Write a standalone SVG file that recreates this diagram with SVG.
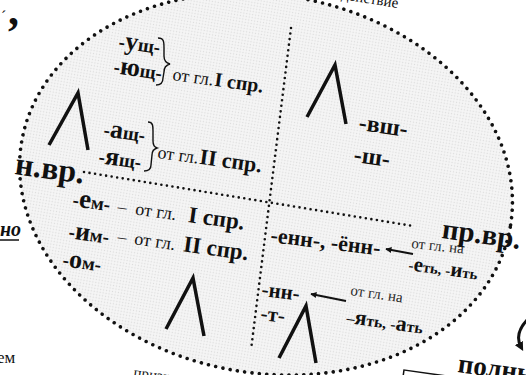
<svg xmlns="http://www.w3.org/2000/svg" width="526" height="375" viewBox="0 0 526 375">
<defs>
<pattern id="ht" width="3" height="3" patternUnits="userSpaceOnUse">
<rect width="3" height="3" fill="#f5f5f5"/>
<circle cx="1.5" cy="1.5" r="0.7" fill="#dcdcdc"/>
</pattern>
<marker id="ah" viewBox="0 0 10 10" refX="9" refY="5" markerWidth="7" markerHeight="6" orient="auto-start-reverse" markerUnits="userSpaceOnUse">
<path d="M0,0 L10,5 L0,10 Z" fill="#111"/>
</marker>
<marker id="ah2" viewBox="0 0 10 10" refX="5" refY="5" markerWidth="9" markerHeight="9" orient="auto" markerUnits="userSpaceOnUse">
<path d="M0,0 L10,5 L0,10 Z" fill="#111"/>
</marker>
</defs>
<style>
text{font-family:"Liberation Serif","Times New Roman",serif;fill:#111}
.s{font-weight:bold;font-size:19px}
.b{font-size:26px}
.r{font-weight:normal;font-size:18px}
.rb{font-weight:bold;font-size:20px}
.sm{font-weight:normal;font-size:15px;fill:#2a2a2a}
.big{font-weight:bold;font-size:29px}
.caret{fill:none;stroke:#111;stroke-width:3.5;stroke-linejoin:miter}
.dl{fill:none;stroke:#111;stroke-width:2.6;stroke-linecap:round;stroke-dasharray:0 5.6}
.brace{fill:none;stroke:#111;stroke-width:1.4}
</style>
<rect width="526" height="375" fill="#ffffff"/>
<g id="oval">
<ellipse cx="266" cy="184" rx="248" ry="189" transform="rotate(10 266 184)" fill="url(#ht)" stroke="#111" stroke-width="3.6" stroke-linecap="round" stroke-dasharray="0 7.4"/>
</g>
<g id="connectors">
<line class="dl" x1="291" y1="28" x2="251" y2="350"/>
<line class="dl" x1="84" y1="172" x2="413" y2="226"/>
<line x1="413" y1="254" x2="386" y2="249" stroke="#111" stroke-width="1.8" marker-end="url(#ah)"/>
<line x1="346" y1="301" x2="311" y2="294" stroke="#111" stroke-width="1.8" marker-end="url(#ah)"/>
</g>
<g id="q-top-left">
<polyline class="caret" points="49,145 78,93 88,150"/>
<text class="s" x="118" y="48" transform="rotate(8 118 48)">-<tspan class="b">у</tspan>щ-</text>
<text class="s" x="113" y="73" transform="rotate(8 113 73)">-<tspan class="b">ю</tspan>щ-</text>
<path class="brace" d="M158,38 C164,38 164,42 164,48 L164,56 C164,61 166,63 170,64 C166,65 164,67 164,72 L163,78 C163,83 161,85 156,85"/>
<text x="172" y="80" transform="rotate(8 172 80)"><tspan class="r">от гл.</tspan><tspan class="rb" dx="1">I спр.</tspan></text>
<text class="s" x="103" y="136" transform="rotate(8 103 136)">-<tspan class="b">а</tspan>щ-</text>
<text class="s" x="98" y="163" transform="rotate(8 98 163)">-<tspan class="b">я</tspan>щ-</text>
<path class="brace" d="M148,122 C153,122 153,126 153,131 L153,141 C153,145 154,147 157,148 C154,149 152,151 152,155 L151,165 C151,169 149,171 144,171"/>
<text x="157" y="158" transform="rotate(8 157 158)"><tspan class="r">от гл.</tspan><tspan class="rb" dx="1" style="font-size:22px">II спр.</tspan></text>
<text class="big" x="14" y="174" transform="rotate(8 14 174)" style="font-size:32px">н.вр.</text>
</g>
<g id="q-top-right">
<polyline class="caret" points="307,117 335,65 346,124"/>
<text class="s" x="358" y="130" transform="rotate(8 358 130)" style="font-size:24px">-вш-</text>
<text class="s" x="353" y="162" transform="rotate(8 353 162)" style="font-size:24px">-ш-</text>
</g>
<g id="q-bottom-left">
<text class="s" x="72" y="206" transform="rotate(8 72 206)">-<tspan class="b" style="font-size:27px">е</tspan>м-</text>
<text x="117" y="212" transform="rotate(8 117 212)"><tspan class="r">–</tspan><tspan class="r" dx="9">от гл.</tspan><tspan class="rb" dx="12" style="font-size:23px">I спр.</tspan></text>
<text class="s" x="68" y="238" transform="rotate(8 68 238)">-<tspan class="b">и</tspan>м-</text>
<text x="117" y="242" transform="rotate(8 117 242)"><tspan class="r">–</tspan><tspan class="r" dx="8">от гл.</tspan><tspan class="rb" dx="8" style="font-size:23px">II спр.</tspan></text>
<text class="s" x="62" y="266" transform="rotate(8 62 266)">-<tspan class="b">о</tspan>м-</text>
<polyline class="caret" points="166,329 193,278 204,336"/>
</g>
<g id="q-bottom-right">
<text class="s" x="270" y="242" transform="rotate(7 270 242)" style="font-size:22px">-енн-, -ённ-</text>
<text class="sm" x="411" y="248" transform="rotate(6 411 248)">от гл. на</text>
<text class="s" x="408" y="270" transform="rotate(8 408 270)" style="font-size:15px">-<tspan style="font-size:21px">е</tspan>ть, -<tspan style="font-size:21px">и</tspan>ть</text>
<text class="big" x="441" y="238" transform="rotate(8 441 238)">пр.вр.</text>
<text class="s" x="261" y="296" transform="rotate(7 261 296)" style="font-size:21px">-нн-</text>
<text class="sm" x="350" y="295" transform="rotate(8 350 295)">от гл. на</text>
<text class="s" x="346" y="323" transform="rotate(8 346 323)" style="font-size:16px">–<tspan style="font-size:22px">я</tspan>ть, -<tspan style="font-size:22px">а</tspan>ть</text>
<text class="s" x="260" y="320" transform="rotate(7 260 320)" style="font-size:21px">-т-</text>
<polyline class="caret" points="279,358 306,306 316,363"/>
</g>
<g id="outside">
<text x="8" y="25" style="font-size:44px;font-weight:bold">,</text>
<text x="1" y="22" style="font-size:16px">´</text>
<text x="341" y="-1" transform="rotate(9 341 -1)" style="font-size:15px">действие</text>
<text x="0" y="236" style="font-size:20px;font-weight:bold;font-style:italic">но</text>
<line x1="0" y1="240" x2="19" y2="240" stroke="#111" stroke-width="1.5"/>
<text x="-3" y="363" style="font-size:17px">ем</text>
<text x="133" y="377" transform="rotate(8 133 377)" style="font-size:15px">призна</text>
<text x="457" y="372" transform="rotate(8 457 372)" style="font-size:27px;font-weight:bold">полны</text>
<path d="M527,320 Q514,334 521,347" fill="none" stroke="#111" stroke-width="3" marker-end="url(#ah2)"/>
<rect x="404" y="370" width="120" height="30" transform="rotate(8 404 370)" fill="none" stroke="#111" stroke-width="1.5"/>
</g>
</svg>
